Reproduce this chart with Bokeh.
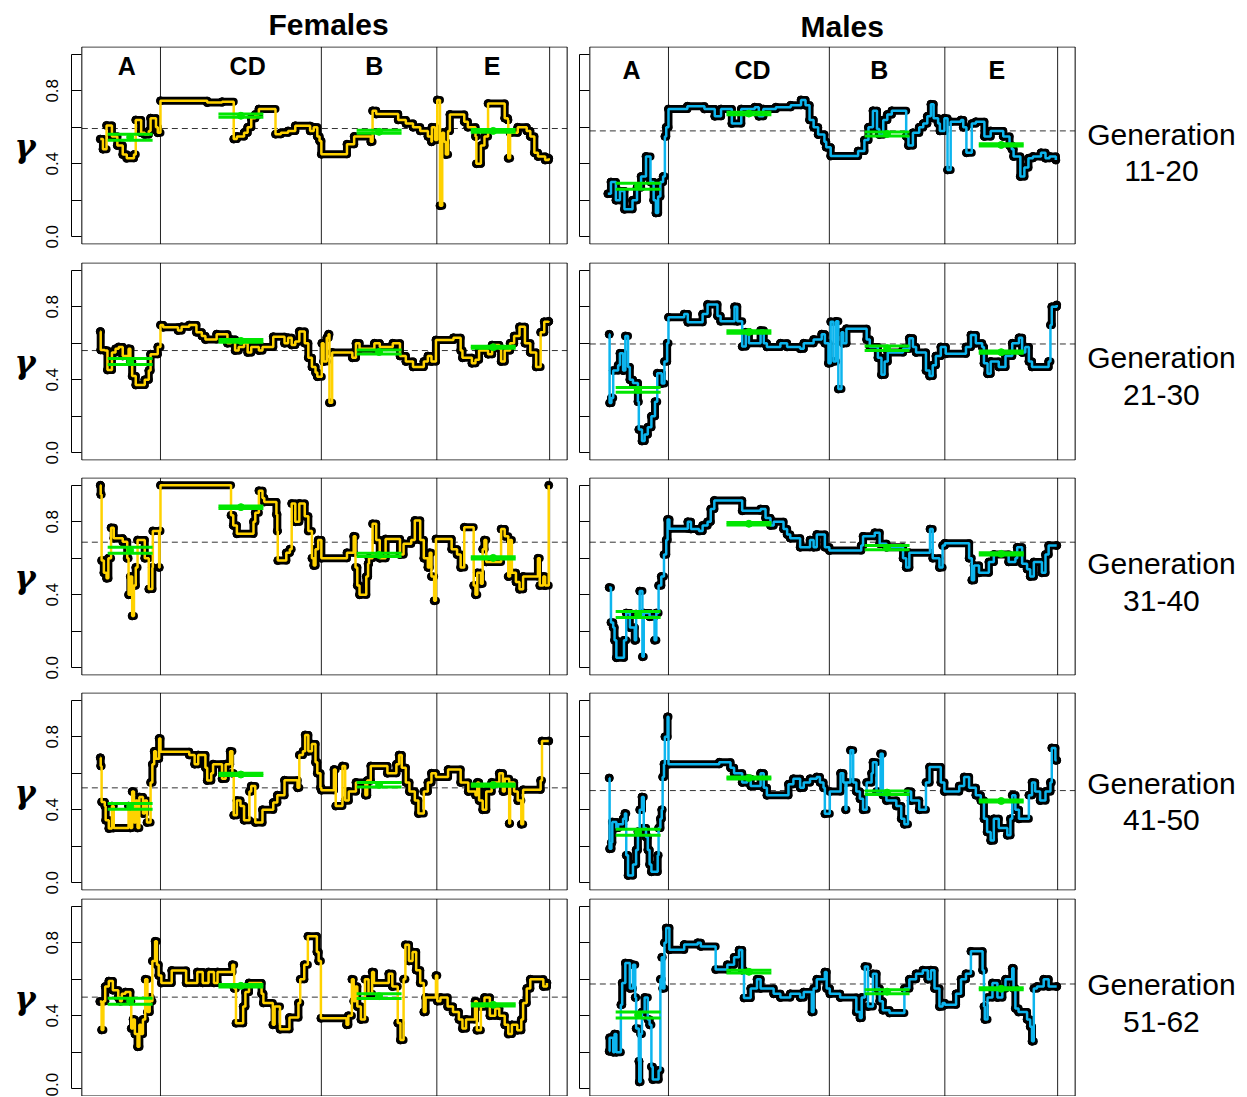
import numpy as np
from bokeh.plotting import figure
from bokeh.layouts import row, column
from bokeh.models import Range1d, FixedTicker, BoxAnnotation, PrintfTickFormatter
from bokeh.core.properties import value
from bokeh.embed import file_html
from bokeh.resources import INLINE

# ---------------------------------------------------------------- data
generations = ["11-20", "21-30", "31-40", "41-50", "51-62"]
chromosomes = ["A", "CD", "B", "E"]
chrom_edges = [0.0, 13.5, 49.3, 75.0, 100.1]   # genome position (%), chromosome boundaries

# (genome position %, gamma) for each panel
fem_11_20 = [(0.1,0.535),(0.7,0.48),(1.5,0.61),(2.7,0.55),(3.9,0.50),(5.1,0.45),(6.0,0.43),(7.6,0.45),(8.0,0.64),(9.2,0.57),
             (10.0,0.56),(10.9,0.58),(11.3,0.65),(12.5,0.60),(12.9,0.57),(13.5,0.745),(23.9,0.735),(27.2,0.74),(29.8,0.535),(30.5,0.55),
             (32.1,0.57),(32.9,0.60),(33.7,0.65),(34.6,0.67),(35.4,0.70),(39.1,0.562),(40.3,0.57),(41.9,0.58),(43.5,0.608),(46.8,0.58),
             (47.6,0.60),(48.4,0.55),(48.9,0.525),(49.3,0.452),(55.0,0.507),(56.6,0.55),(60.3,0.52),(60.7,0.69),(61.5,0.672),(66.4,0.64),
             (68.1,0.62),(69.7,0.60),(71.3,0.58),(73.0,0.55),(73.8,0.52),(73.9,0.60),(74.6,0.53),(75.1,0.75),(75.7,0.17),(76.2,0.57),
             (76.6,0.52),(77.0,0.45),(77.5,0.58),(77.9,0.67),(81.1,0.63),(81.9,0.60),(83.6,0.55),(83.8,0.40),(84.8,0.50),(85.6,0.55),
             (86.4,0.73),(90.1,0.65),(90.8,0.64),(90.9,0.43),(91.3,0.57),(93.0,0.60),(95.0,0.58),(95.8,0.55),(96.7,0.46),(97.5,0.44),
             (99.1,0.42),(99.9,0.43)]
male_11_20 = [(0.0,0.236),(0.7,0.30),(1.8,0.20),(2.7,0.25),(3.7,0.15),(5.5,0.20),(6.5,0.27),(7.4,0.33),(8.5,0.44),(9.5,0.30),
              (10.2,0.20),(10.7,0.13),(11.2,0.22),(11.7,0.30),(12.3,0.33),(12.7,0.55),(13.0,0.60),(13.5,0.70),(17.7,0.715),(21.5,0.70),
              (23.8,0.66),(25.2,0.70),(27.6,0.62),(29.7,0.70),(32.7,0.71),(33.6,0.66),(34.6,0.70),(37.4,0.71),(40.7,0.72),(43.0,0.75),
              (44.0,0.72),(44.9,0.64),(45.8,0.60),(46.8,0.56),(48.2,0.52),(48.6,0.49),(49.6,0.442),(55.7,0.47),(57.1,0.53),(58.0,0.60),
              (59.0,0.69),(59.9,0.59),(60.4,0.56),(61.3,0.64),(62.2,0.67),(63.2,0.69),(66.4,0.55),(66.9,0.50),(67.9,0.57),(69.3,0.60),
              (70.2,0.62),(71.1,0.66),(71.9,0.726),(72.5,0.65),(73.5,0.62),(73.9,0.58),(74.9,0.65),(75.6,0.366),(76.3,0.63),(78.6,0.64),
              (79.1,0.60),(79.8,0.46),(81.0,0.62),(81.9,0.63),(83.8,0.55),(85.2,0.58),(88.0,0.55),(89.4,0.50),(89.9,0.48),(90.3,0.44),
              (91.8,0.33),(92.7,0.38),(93.6,0.43),(94.6,0.44),(96.4,0.46),(97.4,0.43),(98.3,0.44),(99.7,0.42)]
fem_21_30 = [(0.1,0.664),(0.2,0.563),(1.1,0.56),(1.7,0.453),(2.7,0.55),(3.5,0.57),(4.2,0.58),(5.1,0.53),(6.4,0.57),(6.8,0.50),
             (7.2,0.42),(8.0,0.371),(10.0,0.40),(10.9,0.45),(11.3,0.54),(12.9,0.58),(13.5,0.70),(14.1,0.687),(17.4,0.67),(18.2,0.69),
             (19.9,0.70),(21.5,0.66),(22.7,0.64),(23.5,0.62),(26.0,0.65),(28.4,0.60),(29.2,0.62),(30.1,0.56),(30.9,0.58),(32.1,0.60),
             (32.9,0.55),(33.7,0.58),(35.4,0.56),(36.2,0.58),(38.6,0.636),(41.1,0.60),(41.9,0.63),(42.7,0.59),(43.5,0.61),(44.4,0.665),
             (45.6,0.60),(46.4,0.52),(47.2,0.47),(48.0,0.44),(48.4,0.417),(49.4,0.60),(49.8,0.50),(50.5,0.63),(50.9,0.65),(51.1,0.274),
             (51.7,0.55),(56.2,0.52),(57.0,0.60),(57.8,0.57),(61.1,0.60),(62.3,0.58),(65.2,0.60),(66.8,0.53),(68.1,0.50),(69.7,0.47),
             (72.1,0.50),(73.0,0.53),(73.8,0.50),(74.8,0.618),(78.7,0.63),(80.3,0.56),(80.7,0.52),(82.8,0.49),(83.6,0.51),(84.4,0.56),
             (86.4,0.54),(87.3,0.59),(88.9,0.57),(89.3,0.50),(90.1,0.56),(91.3,0.60),(92.2,0.64),(93.4,0.69),(94.6,0.60),(95.8,0.55),
             (97.1,0.47),(98.1,0.66),(98.9,0.718),(99.9,0.72)]
male_21_30 = [(0.3,0.649),(0.4,0.273),(0.8,0.30),(1.2,0.45),(2.3,0.48),(2.7,0.545),(3.4,0.45),(3.9,0.64),(4.5,0.47),(4.9,0.40),
              (5.6,0.382),(6.7,0.28),(6.9,0.127),(7.6,0.064),(8.2,0.10),(8.9,0.14),(9.7,0.20),(10.5,0.28),(11.0,0.436),(12.0,0.38),
              (12.6,0.50),(13.2,0.60),(13.5,0.742),(17.0,0.76),(17.8,0.715),(21.1,0.76),(22.2,0.813),(24.4,0.75),(25.1,0.72),(28.2,0.80),
              (28.8,0.72),(29.9,0.582),(30.7,0.66),(31.4,0.60),(34.0,0.67),(34.7,0.60),(35.4,0.58),(38.4,0.60),(39.9,0.58),(42.8,0.57),
              (43.6,0.60),(45.8,0.62),(47.6,0.65),(48.3,0.60),(49.1,0.49),(49.6,0.718),(50.2,0.50),(50.8,0.72),(51.3,0.349),(52.0,0.66),
              (52.4,0.60),(53.1,0.68),(57.6,0.62),(58.3,0.58),(60.1,0.52),(60.9,0.427),(61.6,0.50),(62.3,0.55),(65.7,0.57),(67.1,0.627),
              (67.9,0.58),(68.6,0.55),(70.8,0.45),(71.6,0.42),(72.3,0.48),(73.0,0.53),(74.1,0.58),(75.2,0.542),(79.7,0.58),(80.8,0.645),
              (81.9,0.60),(83.3,0.58),(83.7,0.49),(84.5,0.433),(85.2,0.50),(87.0,0.47),(88.5,0.53),(90.0,0.60),(91.5,0.63),(92.2,0.55),
              (92.9,0.58),(93.7,0.50),(94.4,0.47),(98.1,0.50),(98.5,0.70),(98.8,0.80),(99.9,0.81)]
fem_31_40 = [(0.1,1.0),(0.2,0.95),(0.4,0.587),(0.9,0.52),(1.5,0.49),(1.9,0.60),(2.5,0.767),(3.1,0.71),(5.1,0.69),(6.1,0.60),
             (6.4,0.40),(6.8,0.50),(7.2,0.284),(7.6,0.45),(8.0,0.55),(8.4,0.70),(10.0,0.60),(10.9,0.431),(11.7,0.55),(11.8,0.75),
             (13.2,0.55),(13.3,0.75),(13.5,1.0),(29.2,0.835),(29.7,0.78),(30.5,0.734),(34.2,0.80),(34.6,0.85),(35.4,0.97),(36.2,0.93),
             (36.6,0.908),(39.3,0.84),(39.5,0.75),(39.6,0.587),(41.5,0.63),(42.3,0.65),(42.7,0.90),(43.5,0.80),(44.4,0.90),(45.6,0.83),
             (46.4,0.75),(47.2,0.60),(47.6,0.56),(48.0,0.65),(48.6,0.70),(49.3,0.60),(55.0,0.63),(56.5,0.72),(56.9,0.55),(57.3,0.45),
             (57.8,0.40),(59.3,0.50),(59.7,0.57),(59.9,0.60),(60.7,0.789),(61.5,0.70),(62.3,0.60),(63.6,0.706),(66.8,0.62),(67.6,0.68),
             (69.3,0.70),(70.1,0.807),(71.3,0.70),(72.1,0.60),(73.0,0.55),(73.4,0.63),(73.8,0.50),(74.4,0.367),(74.8,0.706),(78.3,0.65),
             (79.5,0.62),(80.3,0.55),(81.1,0.77),(83.2,0.45),(83.6,0.40),(84.0,0.52),(84.8,0.46),(85.2,0.65),(85.6,0.70),(86.0,0.58),
             (89.3,0.76),(90.1,0.72),(90.9,0.50),(91.3,0.70),(91.7,0.52),(92.6,0.47),(93.4,0.43),(94.2,0.50),(97.5,0.60),(97.9,0.45),
             (98.7,0.50),(99.1,0.45),(99.9,1.0)]
male_31_40 = [(0.3,0.44),(0.7,0.248),(1.2,0.22),(1.5,0.15),(1.9,0.055),(3.6,0.15),(4.1,0.30),(4.9,0.22),(6.0,0.15),(6.3,0.294),
              (7.1,0.42),(7.7,0.06),(8.0,0.30),(9.3,0.28),(10.4,0.15),(10.8,0.30),(11.3,0.45),(11.9,0.50),(12.5,0.62),(13.0,0.70),
              (13.3,0.813),(13.7,0.761),(17.8,0.80),(18.5,0.76),(20.3,0.75),(21.1,0.78),(22.2,0.80),(22.9,0.87),(23.7,0.917),(29.9,0.86),
              (34.0,0.87),(35.1,0.82),(36.2,0.78),(36.9,0.80),(39.1,0.76),(39.9,0.73),(40.6,0.71),(42.8,0.66),(45.0,0.70),(45.8,0.66),
              (46.5,0.73),(48.3,0.66),(49.3,0.642),(56.4,0.67),(56.8,0.72),(59.4,0.74),(60.5,0.68),(62.0,0.66),(65.7,0.60),(66.4,0.55),
              (67.1,0.63),(71.7,0.76),(72.3,0.60),(73.8,0.55),(74.5,0.67),(75.0,0.682),(80.4,0.60),(81.0,0.48),(81.5,0.56),(82.6,0.52),
              (84.8,0.58),(85.9,0.62),(89.2,0.58),(90.7,0.60),(91.1,0.66),(92.2,0.57),(93.3,0.54),(94.0,0.50),(94.8,0.58),(96.6,0.52),
              (97.4,0.62),(98.1,0.67),(99.9,0.67)]
fem_41_50 = [(0.1,0.685),(0.2,0.64),(0.4,0.443),(1.1,0.42),(1.3,0.342),(2.0,0.297),(2.7,0.42),(3.1,0.30),(6.4,0.42),(6.8,0.30),
             (7.2,0.50),(7.6,0.33),(8.0,0.45),(8.4,0.30),(8.8,0.47),(9.6,0.38),(10.0,0.45),(10.5,0.33),(11.3,0.55),(11.7,0.65),
             (12.1,0.72),(12.5,0.68),(13.2,0.791),(13.5,0.718),(19.9,0.70),(21.1,0.65),(21.9,0.70),(23.5,0.63),(23.9,0.56),(24.8,0.60),
             (25.2,0.65),(27.2,0.57),(28.0,0.65),(29.0,0.72),(29.5,0.60),(29.8,0.37),(30.5,0.45),(31.3,0.42),(32.1,0.342),(33.3,0.50),
             (33.7,0.53),(34.6,0.33),(36.2,0.40),(38.6,0.44),(39.5,0.48),(41.1,0.562),(44.0,0.52),(44.4,0.70),(45.2,0.72),(45.7,0.81),
             (46.4,0.72),(47.2,0.76),(48.0,0.66),(48.4,0.60),(49.1,0.52),(49.3,0.507),(52.1,0.62),(52.5,0.42),(54.0,0.64),(54.6,0.45),
             (55.4,0.50),(57.0,0.55),(59.1,0.48),(59.5,0.56),(60.3,0.64),(64.0,0.60),(66.0,0.65),(66.6,0.70),(67.2,0.63),(68.1,0.55),
             (68.9,0.50),(70.1,0.45),(70.9,0.379),(72.1,0.50),(73.0,0.55),(73.8,0.60),(74.8,0.58),(77.5,0.62),(80.3,0.55),(82.0,0.50),
             (83.6,0.48),(84.0,0.55),(84.4,0.45),(85.2,0.40),(86.0,0.50),(87.2,0.55),(88.9,0.60),(89.7,0.50),(90.1,0.57),(91.1,0.324),
             (91.3,0.55),(92.2,0.50),(93.0,0.45),(93.8,0.32),(94.2,0.51),(98.1,0.56),(98.4,0.777),(99.9,0.777)]
male_41_50 = [(0.3,0.574),(0.4,0.186),(0.8,0.22),(1.0,0.333),(1.9,0.30),(2.3,0.32),(3.4,0.35),(3.8,0.38),(4.1,0.15),(4.5,0.04),
              (5.6,0.10),(6.3,0.18),(6.7,0.28),(7.1,0.40),(7.6,0.47),(8.0,0.30),(8.5,0.25),(8.9,0.18),(9.3,0.10),(9.7,0.06),
              (11.1,0.15),(11.3,0.30),(11.7,0.35),(12.0,0.40),(12.2,0.58),(12.5,0.65),(12.7,0.80),(13.3,0.909),(13.5,0.649),(24.8,0.66),
              (27.3,0.63),(28.1,0.60),(29.9,0.55),(31.0,0.57),(31.8,0.53),(34.0,0.60),(34.7,0.52),(35.4,0.479),(40.2,0.54),(41.3,0.57),
              (42.8,0.52),(43.6,0.55),(45.0,0.57),(46.5,0.58),(47.2,0.55),(48.0,0.52),(48.3,0.378),(49.4,0.50),(51.8,0.60),(52.4,0.55),
              (52.9,0.40),(53.1,0.55),(54.0,0.726),(54.6,0.55),(55.3,0.50),(56.1,0.46),(56.8,0.40),(57.6,0.55),(58.7,0.60),(59.0,0.66),
              (59.8,0.50),(60.7,0.707),(61.2,0.48),(62.0,0.45),(64.2,0.42),(65.3,0.35),(66.0,0.32),(66.8,0.50),(67.5,0.45),(69.3,0.40),
              (70.8,0.55),(71.6,0.634),(74.1,0.55),(74.9,0.50),(78.2,0.53),(79.3,0.58),(80.4,0.52),(81.9,0.48),(83.0,0.45),(83.7,0.35),
              (84.4,0.278),(85.2,0.232),(85.9,0.35),(87.0,0.30),(88.9,0.26),(89.6,0.35),(90.0,0.48),(90.7,0.40),(91.5,0.35),(93.7,0.48),
              (94.4,0.55),(95.1,0.50),(96.2,0.45),(97.4,0.50),(98.5,0.55),(98.8,0.739),(99.6,0.671),(99.9,0.671)]
fem_51_62 = [(0.0,0.478),(0.4,0.322),(0.8,0.48),(1.2,0.56),(2.0,0.59),(2.9,0.54),(4.1,0.50),(4.5,0.48),(4.9,0.52),(5.7,0.53),
             (6.8,0.48),(7.0,0.33),(7.4,0.38),(7.8,0.30),(8.4,0.23),(8.8,0.35),(9.2,0.30),(9.6,0.38),(10.1,0.60),(10.6,0.42),
             (11.1,0.50),(11.3,0.48),(11.7,0.70),(12.3,0.808),(12.7,0.68),(13.1,0.62),(13.7,0.579),(16.0,0.648),(19.2,0.58),(21.7,0.64),
             (22.9,0.58),(24.2,0.64),(25.4,0.58),(26.2,0.64),(29.5,0.68),(29.9,0.55),(30.3,0.359),(31.9,0.45),(32.4,0.53),(33.2,0.58),
             (36.0,0.52),(36.4,0.47),(38.5,0.35),(38.9,0.45),(40.1,0.326),(42.2,0.39),(44.2,0.47),(44.6,0.60),(45.5,0.68),(46.3,0.835),
             (48.3,0.75),(48.7,0.70),(49.2,0.386),(54.9,0.35),(55.3,0.40),(56.1,0.60),(56.5,0.48),(56.9,0.56),(57.3,0.45),(58.1,0.38),
             (59.0,0.60),(59.8,0.52),(60.6,0.64),(61.0,0.58),(64.3,0.63),(65.1,0.56),(66.3,0.36),(66.9,0.267),(67.6,0.60),(68.0,0.789),
             (68.8,0.70),(69.6,0.75),(70.4,0.65),(71.3,0.58),(72.1,0.42),(72.5,0.50),(74.8,0.62),(75.1,0.48),(75.8,0.50),(77.4,0.45),
             (78.6,0.42),(79.9,0.38),(80.7,0.33),(81.5,0.38),(83.5,0.48),(83.9,0.32),(84.8,0.45),(85.6,0.50),(86.8,0.40),(88.0,0.44),
             (88.9,0.40),(90.1,0.35),(90.9,0.30),(91.7,0.35),(92.9,0.32),(93.8,0.38),(94.2,0.47),(95.0,0.55),(95.8,0.60),(98.7,0.56),
             (99.5,0.58)]
male_51_62 = [(0.3,0.205),(0.4,0.28),(1.2,0.20),(1.5,0.30),(1.9,0.20),(2.9,0.46),(3.2,0.58),(3.9,0.689),(4.9,0.55),(5.6,0.68),
              (6.1,0.50),(6.3,0.33),(6.9,0.15),(7.0,0.037),(7.3,0.30),(7.6,0.42),(8.2,0.50),(8.9,0.38),(9.3,0.35),(9.7,0.12),
              (10.0,0.05),(11.3,0.10),(11.7,0.60),(12.0,0.72),(12.2,0.55),(12.6,0.80),(13.0,0.881),(13.7,0.762),(17.0,0.79),(20.0,0.80),
              (20.7,0.78),(24.0,0.653),(26.6,0.68),(28.1,0.72),(29.2,0.76),(29.9,0.65),(30.3,0.497),(31.8,0.55),(33.2,0.60),(34.0,0.55),
              (36.9,0.52),(38.4,0.50),(40.6,0.52),(42.8,0.50),(43.6,0.53),(45.4,0.42),(45.8,0.55),(46.5,0.60),(48.3,0.64),(48.7,0.55),
              (49.4,0.52),(51.7,0.50),(55.3,0.42),(56.1,0.388),(56.5,0.50),(57.2,0.67),(57.9,0.45),(59.0,0.63),(59.8,0.55),(60.5,0.48),
              (61.2,0.43),(62.7,0.415),(66.0,0.55),(67.1,0.60),(68.6,0.63),(70.1,0.65),(71.2,0.60),(71.9,0.65),(72.7,0.55),(73.8,0.45),
              (74.5,0.47),(75.0,0.46),(77.5,0.52),(78.6,0.60),(79.7,0.63),(80.8,0.753),(83.4,0.65),(83.7,0.45),(83.9,0.38),(84.5,0.50),
              (85.6,0.58),(86.7,0.50),(87.8,0.55),(88.5,0.60),(90.0,0.66),(90.3,0.55),(90.7,0.44),(91.4,0.42),(93.3,0.38),(94.0,0.34),
              (94.4,0.26),(94.8,0.55),(95.5,0.56),(97.0,0.60),(98.1,0.56),(99.9,0.56)]

fem_series = [fem_11_20, fem_21_30, fem_31_40, fem_41_50, fem_51_62]
male_series = [male_11_20, male_21_30, male_31_40, male_41_50, male_51_62]

# genome-wide mean (dashed line)
fem_overall = [0.593, 0.560, 0.688, 0.520, 0.502]
male_overall = [0.580, 0.596, 0.688, 0.505, 0.574]

# per-chromosome mean and interval (A, CD, B, E)
fem_mean = [[0.545, 0.663, 0.575, 0.580], [0.500, 0.613, 0.552, 0.578], [0.643, 0.880, 0.618, 0.602],
            [0.418, 0.593, 0.536, 0.535], [0.480, 0.564, 0.507, 0.460]]
fem_lo = [[0.529, 0.655, 0.567, 0.573], [0.484, 0.606, 0.541, 0.572], [0.627, 0.873, 0.609, 0.596],
          [0.403, 0.587, 0.524, 0.529], [0.463, 0.557, 0.494, 0.454]]
fem_hi = [[0.562, 0.672, 0.583, 0.587], [0.517, 0.620, 0.563, 0.584], [0.660, 0.887, 0.627, 0.608],
          [0.434, 0.600, 0.549, 0.541], [0.496, 0.571, 0.520, 0.466]]
male_mean = [[0.277, 0.675, 0.563, 0.503], [0.345, 0.662, 0.573, 0.551], [0.292, 0.789, 0.658, 0.624],
             [0.277, 0.574, 0.494, 0.448], [0.404, 0.641, 0.532, 0.548]]
male_lo = [[0.260, 0.668, 0.552, 0.497], [0.331, 0.655, 0.560, 0.545], [0.275, 0.782, 0.646, 0.618],
           [0.260, 0.568, 0.484, 0.442], [0.388, 0.634, 0.521, 0.542]]
male_hi = [[0.293, 0.682, 0.574, 0.509], [0.358, 0.669, 0.585, 0.557], [0.308, 0.796, 0.670, 0.630],
           [0.293, 0.580, 0.503, 0.454], [0.420, 0.649, 0.543, 0.554]]

# ---------------------------------------------------------------- style / layout
GOLD = "#FFD200"
BLUE = "#0DB5EE"
GREEN = "#00E600"
FONT = "Liberation Sans"

FRAME_W, FRAME_H = 497, 198
PX_PER_X = FRAME_W / 110.6
X_RANGE = (-6.3, 104.3)
Y_RANGE = (-0.0425, 1.0425)
BOX_L, BOX_R, BOX_B, BOX_T = -4.0, 104.0, -0.04, 1.04
ROW_PAD_TOP = [45, 9, 9, 9, 0]
ROW_PAD_BOTTOM = [9, 8, 8, 8, 0]
EXTRA_RIGHT = 170                      # room right of the male panels for the generation labels
GEN_LABEL_X = 123.2                    # x (data units of male panel) of the generation label centre
GEN_LABEL_Y = [(0.559, 0.362), (0.521, 0.318), (0.570, 0.367), (0.543, 0.346), (0.570, 0.367)]
LABEL_X_F = [6.0, 32.9, 61.1, 87.3]
LABEL_X_M = [5.3, 32.2, 60.4, 86.6]
CI_HALF = 5.0


def draw_series(p, pairs, color):
    xs = np.array([a for a, b in pairs], dtype=float)
    ys = np.array([b for a, b in pairs], dtype=float)
    p.segment(x0=xs[:-1], y0=ys[:-1], x1=xs[1:], y1=ys[:-1],
              line_color="black", line_width=8, line_cap="round")
    dy = np.abs(np.diff(ys))
    m = dy < 0.12
    p.segment(x0=xs[1:][m], y0=ys[:-1][m], x1=xs[1:][m], y1=ys[1:][m],
              line_color="black", line_width=8, line_cap="round")
    p.scatter(x=xs, y=ys, size=8, fill_color="black", line_color="black")
    p.step(x=xs, y=ys, mode="after", line_color=color, line_width=2.5)


def build_panel(pairs, lo, hi, mean, overall, color, left_col, pad_top, pad_bottom,
                title=None, title_offset=0, title_standoff=10, label_x=None, label_y=None,
                gen_text=None, gen_y=None):
    extra = 0 if left_col else EXTRA_RIGHT
    x_end = X_RANGE[1] + extra / PX_PER_X
    p = figure(frame_width=FRAME_W + extra, frame_height=FRAME_H,
               x_range=Range1d(X_RANGE[0], x_end), y_range=Range1d(*Y_RANGE),
               output_backend="svg", toolbar_location=None, title=title,
               min_border_left=71 if left_col else 6,
               min_border_right=5 if left_col else 0,
               min_border_top=pad_top, min_border_bottom=pad_bottom)
    p.xaxis.visible = False
    p.xgrid.visible = False
    p.ygrid.visible = False
    p.outline_line_color = None
    p.background_fill_color = "white"
    p.border_fill_color = "white"

    ax = p.yaxis[0]
    ax.bounds = (0, 1)
    ax.axis_line_color = "black"
    ax.major_tick_line_color = "black"
    ax.minor_tick_line_color = "black"
    ax.major_tick_in = 10
    ax.major_tick_out = 0
    ax.minor_tick_in = 10
    ax.minor_tick_out = 0
    if left_col:
        ax.ticker = FixedTicker(ticks=[0.0, 0.4, 0.8], minor_ticks=[0.2, 0.6, 1.0])
        ax.formatter = PrintfTickFormatter(format="%.1f")
        ax.major_label_orientation = "vertical"
        ax.major_label_text_font = FONT
        ax.major_label_text_font_size = "17px"
        ax.major_label_text_color = "black"
        ax.major_label_standoff = 13
        ax.axis_label = "γ"
        ax.axis_label_orientation = "horizontal"
        ax.axis_label_text_font = "DejaVu Serif"
        ax.axis_label_text_font_style = "bold italic"
        ax.axis_label_text_font_size = "32px"
        ax.axis_label_text_color = "black"
        ax.axis_label_standoff = 8
    else:
        ax.ticker = FixedTicker(ticks=[], minor_ticks=[0.0, 0.2, 0.4, 0.6, 0.8, 1.0])
        ax.major_label_standoff = 0

    if title is not None:
        p.title.align = "left"
        p.title.offset = title_offset
        p.title.standoff = title_standoff
        p.title.text_font = FONT
        p.title.text_font_size = "30px"
        p.title.text_font_style = "bold"
        p.title.text_color = "black"

    seps = chrom_edges[1:]
    p.segment(x0=seps, y0=[BOX_B] * len(seps), x1=seps, y1=[BOX_T] * len(seps),
              line_color="#222222", line_width=1)
    p.segment(x0=[BOX_L], y0=[overall], x1=[BOX_R], y1=[overall],
              line_color="#333333", line_width=1, line_dash="6 4")

    draw_series(p, pairs, color)

    mids = [(chrom_edges[k] + chrom_edges[k + 1]) / 2 for k in range(4)]
    x0 = [m - CI_HALF for m in mids]
    x1 = [m + CI_HALF for m in mids]
    p.segment(x0=x0, y0=lo, x1=x1, y1=lo, line_color=GREEN, line_width=3)
    p.segment(x0=x0, y0=hi, x1=x1, y1=hi, line_color=GREEN, line_width=3)
    p.scatter(x=mids, y=mean, size=7, fill_color=GREEN, line_color=GREEN)

    if label_x is not None:
        p.text(x=label_x, y=[label_y] * len(label_x), text=chromosomes,
               text_font=value(FONT), text_font_style="bold", text_font_size="25px",
               text_align="center", text_baseline="middle", text_color="black")

    if gen_text is not None:
        p.text(x=[GEN_LABEL_X, GEN_LABEL_X], y=list(gen_y), text=["Generation", gen_text],
               text_font=value(FONT), text_font_size="30px", text_align="center",
               text_baseline="middle", text_color="black")

    p.add_layout(BoxAnnotation(left=BOX_L, right=BOX_R, bottom=BOX_B, top=BOX_T,
                               fill_alpha=0, fill_color=None,
                               line_color="black", line_alpha=1, line_width=1))
    return p


rows = []
for i in range(5):
    top = i == 0
    pf = build_panel(fem_series[i], fem_lo[i], fem_hi[i], fem_mean[i], fem_overall[i], GOLD,
                     True, ROW_PAD_TOP[i], ROW_PAD_BOTTOM[i],
                     title="Females" if top else None, title_offset=197, title_standoff=11,
                     label_x=LABEL_X_F if top else None, label_y=0.933)
    pm = build_panel(male_series[i], male_lo[i], male_hi[i], male_mean[i], male_overall[i], BLUE,
                     False, ROW_PAD_TOP[i], ROW_PAD_BOTTOM[i],
                     title="Males" if top else None, title_offset=221, title_standoff=8,
                     label_x=LABEL_X_M if top else None, label_y=0.911,
                     gen_text=generations[i], gen_y=GEN_LABEL_Y[i])
    rows.append(row(pf, pm))

page = column(*rows)
with open("out.html", "w") as f:
    f.write(file_html(page, INLINE, title="gamma by generation"))
